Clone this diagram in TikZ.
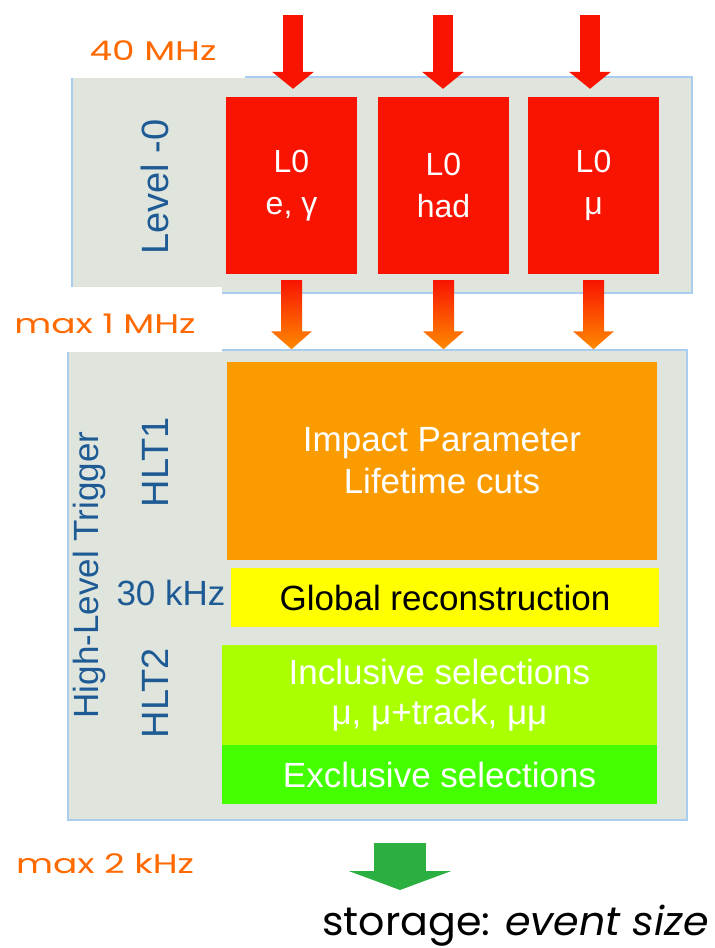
\documentclass[tikz,border=0pt]{standalone}
\usepackage{fontspec}
\setmainfont{Liberation Sans}
\newfontfamily\ratefont[FakeStretch=1.33]{Poppins}
\newfontfamily\storefont[FakeStretch=1.03]{Poppins}
\usetikzlibrary{arrows.meta,calc}

\definecolor{framegrey}{HTML}{DFE4DD}
\definecolor{frameblue}{HTML}{A9CDEE}
\definecolor{lzred}{HTML}{F81400}
\definecolor{arrorange}{HTML}{FF8A00}
\definecolor{hltorange}{HTML}{FA9B00}
\definecolor{globyellow}{HTML}{FFFF00}
\definecolor{inclgreen}{HTML}{AAFF00}
\definecolor{exclgreen}{HTML}{44FF00}
\definecolor{labelblue}{HTML}{1E5A94}
\definecolor{rateorange}{HTML}{FF6A00}
\definecolor{storegreen}{HTML}{2BAF40}

\tikzset{
  trigframe/.style={draw=frameblue, line width=1.5pt, fill=framegrey, inner sep=0pt},
  stagebox/.style={inner sep=0pt, align=center, font=\fontsize{35}{42}\selectfont},
  lzbox/.style={stagebox, fill=lzred, text=white, minimum width=131pt, minimum height=177pt,
    font=\fontsize{32}{42}\selectfont},
  sidelabel/.style={text=labelblue, rotate=90, font=\fontsize{38}{40}\selectfont},
  ratelabel/.style={text=rateorange, font=\ratefont\fontsize{27}{30}\selectfont},
  redarrow/.style={draw=lzred, line width=20pt, -{Triangle[width=41pt,length=17pt]}},
  storearrow/.style={draw=storegreen, line width=52pt, -{Triangle[width=102pt,length=19pt]}}
}

\begin{document}
\begin{tikzpicture}[x=1pt, y=-1pt]
  \useasboundingbox (0,0) rectangle (715,948);

  % Level-0
  \node[trigframe, minimum width=620pt, minimum height=216pt] (lvl) at (382,185) {};
  \node[lzbox] (l0e) at (291.5,185.5) {L0\\e, γ};
  \node[lzbox] (l0h) at (443.5,185.5) {L0\\had};
  \node[lzbox] (l0m) at (593.5,185.5) {L0\\μ};
  \node[sidelabel] (lvltxt) at (155,187) {Level -0};

  % HLT
  \node[trigframe, minimum width=619pt, minimum height=470pt] (hlt) at (377.5,585) {};
  \node[stagebox, fill=hltorange, text=white, minimum width=430pt, minimum height=198pt] (hltone) at (442,461) {Impact Parameter\\Lifetime cuts};
  \node[stagebox, fill=globyellow, text=black, minimum width=428pt, minimum height=59pt] (glob) at (445,597.5) {Global reconstruction};
  \node[stagebox, fill=inclgreen, text=white, minimum width=435pt, minimum height=100pt, font=\fontsize{35}{40}\selectfont] (incl) at (439.5,695) {Inclusive selections\\μ, μ+track, μμ};
  \node[stagebox, fill=exclgreen, text=white, minimum width=435pt, minimum height=59pt] (excl) at (439.5,774.5) {Exclusive selections};
  \node[sidelabel] (hltonetxt) at (155,462) {HLT1};
  \node[sidelabel] (hlttwotxt) at (155,693) {HLT2};
  \node[sidelabel, font=\fontsize{35}{40}\selectfont] (trigtxt) at (89,575) {High-Level Trigger};
  \node[text=labelblue, font=\fontsize{35}{40}\selectfont] (khz) at (171,593) {30 kHz};

  % input arrows
  \coordinate (in1) at (293,15);
  \coordinate (in2) at (443,15);
  \coordinate (in3) at (590,15);
  \draw[redarrow, shorten >=8pt] (in1) -- (in1 |- l0e.north);
  \draw[redarrow, shorten >=8pt] (in2) -- (in2 |- l0h.north);
  \draw[redarrow, shorten >=8pt] (in3) -- (in3 |- l0m.north);

  % L0 -> HLT
  \shade[top color=lzred, bottom color=arrorange]
    ($(l0e.south)+(-10.5,6)$) -- ($(l0e.south |- hlt.north)+(-10.5,-18)$) -- ++(-10,0)
    -- (l0e.south |- hlt.north) -- ++(20.5,-18) -- ++(-10,0) -- ($(l0e.south)+(10.5,6)$) -- cycle;
  \shade[top color=lzred, bottom color=arrorange]
    ($(l0h.south)+(-10.5,6)$) -- ($(l0h.south |- hlt.north)+(-10.5,-18)$) -- ++(-10,0)
    -- (l0h.south |- hlt.north) -- ++(20.5,-18) -- ++(-10,0) -- ($(l0h.south)+(10.5,6)$) -- cycle;
  \shade[top color=lzred, bottom color=arrorange]
    ($(l0m.south)+(-10.5,6)$) -- ($(l0m.south |- hlt.north)+(-10.5,-18)$) -- ++(-10,0)
    -- (l0m.south |- hlt.north) -- ++(20.5,-18) -- ++(-10,0) -- ($(l0m.south)+(10.5,6)$) -- cycle;

  % rates
  \fill[white] (0,0) rectangle (245,78);
  \fill[white] (0,287) rectangle (222,352);
  \node[ratelabel] (rin) at (153,51) {40 MHz};
  \node[ratelabel] (rlz) at (105,324) {max 1 MHz};
  \node[ratelabel] (rout) at (105,864) {max 2 kHz};

  % storage
  \coordinate (gtail) at (400,843);
  \coordinate (gtip) at (400,890);
  \draw[storearrow] (gtail) -- (gtip);
  \node[anchor=west, inner sep=0pt, font=\storefont\fontsize{40}{44}\selectfont] (stor) at (322,926) {storage: \textit{event size}};
\end{tikzpicture}
\end{document}
